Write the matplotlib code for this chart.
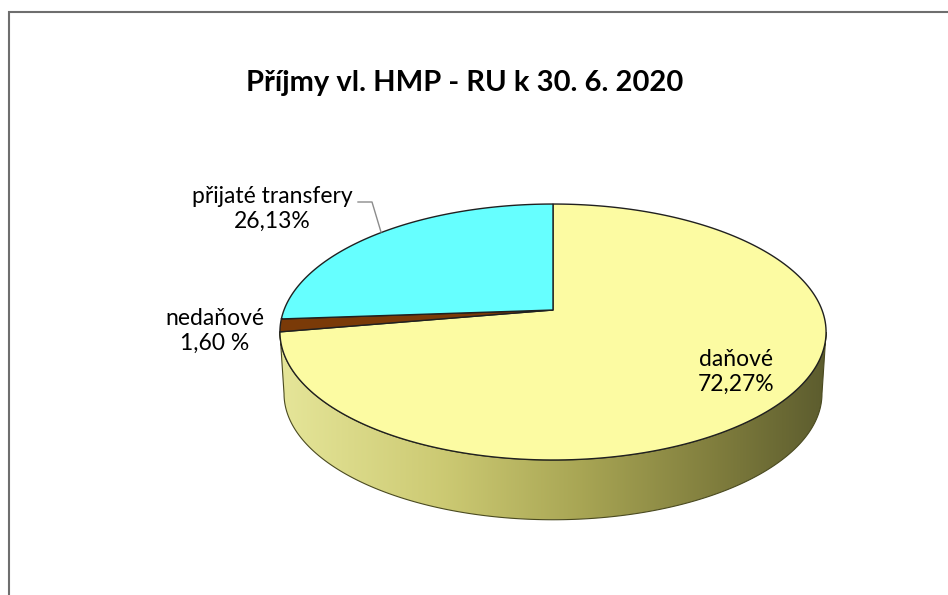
import numpy as np
import matplotlib
matplotlib.use("Agg")
import matplotlib.pyplot as plt
from matplotlib.patches import Polygon
from matplotlib.colors import LinearSegmentedColormap

# ---- data ----
categories = ["daňové", "nedaňové", "přijaté transfery"]
values = [72.27, 1.60, 26.13]
label_texts = ["daňové\n72,27%", "nedaňové\n1,60 %", "přijaté transfery\n26,13%"]
colors = ["#FCFBA2", "#7A3A08", "#66FFFF"]
title = "Příjmy vl. HMP - RU k 30. 6. 2020"

W, H = 948, 595
fig = plt.figure(figsize=(W / 100, H / 100), dpi=100)
ax = fig.add_axes([0, 0, 1, 1])
ax.set_xlim(0, W)
ax.set_ylim(H, 0)
ax.axis("off")

# projection parameters (pixel space)
cx, cy = 553.0, 310.0
A, B, k = 269.0, 124.2, 0.172
depth = 62.0
shrink = 0.985

def proj(t, bottom=False):
    x, y = np.cos(t), np.sin(t)
    w = 1 + k * y
    if bottom:
        return cx + shrink * A * x / w, cy - shrink * B * y / w + depth
    return cx + A * x / w, cy - B * y / w

# slice angles: start at 12 o'clock, clockwise
fr = np.array(values) / np.sum(values)
starts = np.pi / 2 - 2 * np.pi * np.concatenate([[0], np.cumsum(fr)[:-1]])
ends = starts - 2 * np.pi * fr

# ---- side (front visible part) ----
t_left = np.pi + np.arcsin(k)
t_right = 2 * np.pi - np.arcsin(k)
ts = np.linspace(t_left, t_right, 300)
xt, yt = proj(ts)
xb, yb = proj(ts[::-1], bottom=True)
side_pts = np.column_stack([np.concatenate([xt, xb]), np.concatenate([yt, yb])])
side = Polygon(side_pts, closed=True, facecolor="none", edgecolor="#4a4a20", lw=0.8, zorder=2)
ax.add_patch(side)
cmap = LinearSegmentedColormap.from_list(
    "side",
    [(0.0, (0.90, 0.90, 0.60)), (0.3, (0.80, 0.79, 0.45)), (0.55, (0.66, 0.65, 0.33)),
     (0.8, (0.50, 0.49, 0.24)), (1.0, (0.36, 0.36, 0.18))])
grad = np.linspace(0, 1, 256).reshape(1, -1)
im = ax.imshow(grad, cmap=cmap, extent=[side_pts[:, 0].min(), side_pts[:, 0].max(),
                                         side_pts[:, 1].max(), side_pts[:, 1].min()],
               aspect="auto", zorder=1.5)
im.set_clip_path(side)

# ---- top face wedges ----
for s, e, c in zip(starts, ends, colors):
    tt = np.linspace(s, e, 200)
    px, py = proj(tt)
    pts = np.column_stack([np.concatenate([[cx], px]), np.concatenate([[cy], py])])
    ax.add_patch(Polygon(pts, closed=True, facecolor=c, edgecolor="#202020", lw=1.0, zorder=3))

# ---- labels ----
fnt = "Lato"
fs = 16.5
ax.text(736, 372, label_texts[0], ha="center", va="center", fontsize=fs,
        family=fnt, linespacing=1.25, zorder=5)
ax.text(215, 331, label_texts[1], ha="center", va="center", fontsize=fs,
        family=fnt, linespacing=1.25, zorder=5)
ax.text(272, 209, label_texts[2], ha="center", va="center", fontsize=fs,
        family=fnt, linespacing=1.25, zorder=5)
ax.plot([358, 372, 381], [202, 202, 232], color="#8c8c8c", lw=1.0, zorder=4)

ax.text(465, 83, title, ha="center", va="center", fontsize=21, fontweight="bold",
        family=fnt, zorder=5)

# ---- frame ----
ax.plot([9.5, 9.5, W], [H, 11.5, 11.5], color="#6e6e6e", lw=1.5, zorder=6,
        solid_joinstyle="miter")

fig.savefig("out.png", dpi=100)
